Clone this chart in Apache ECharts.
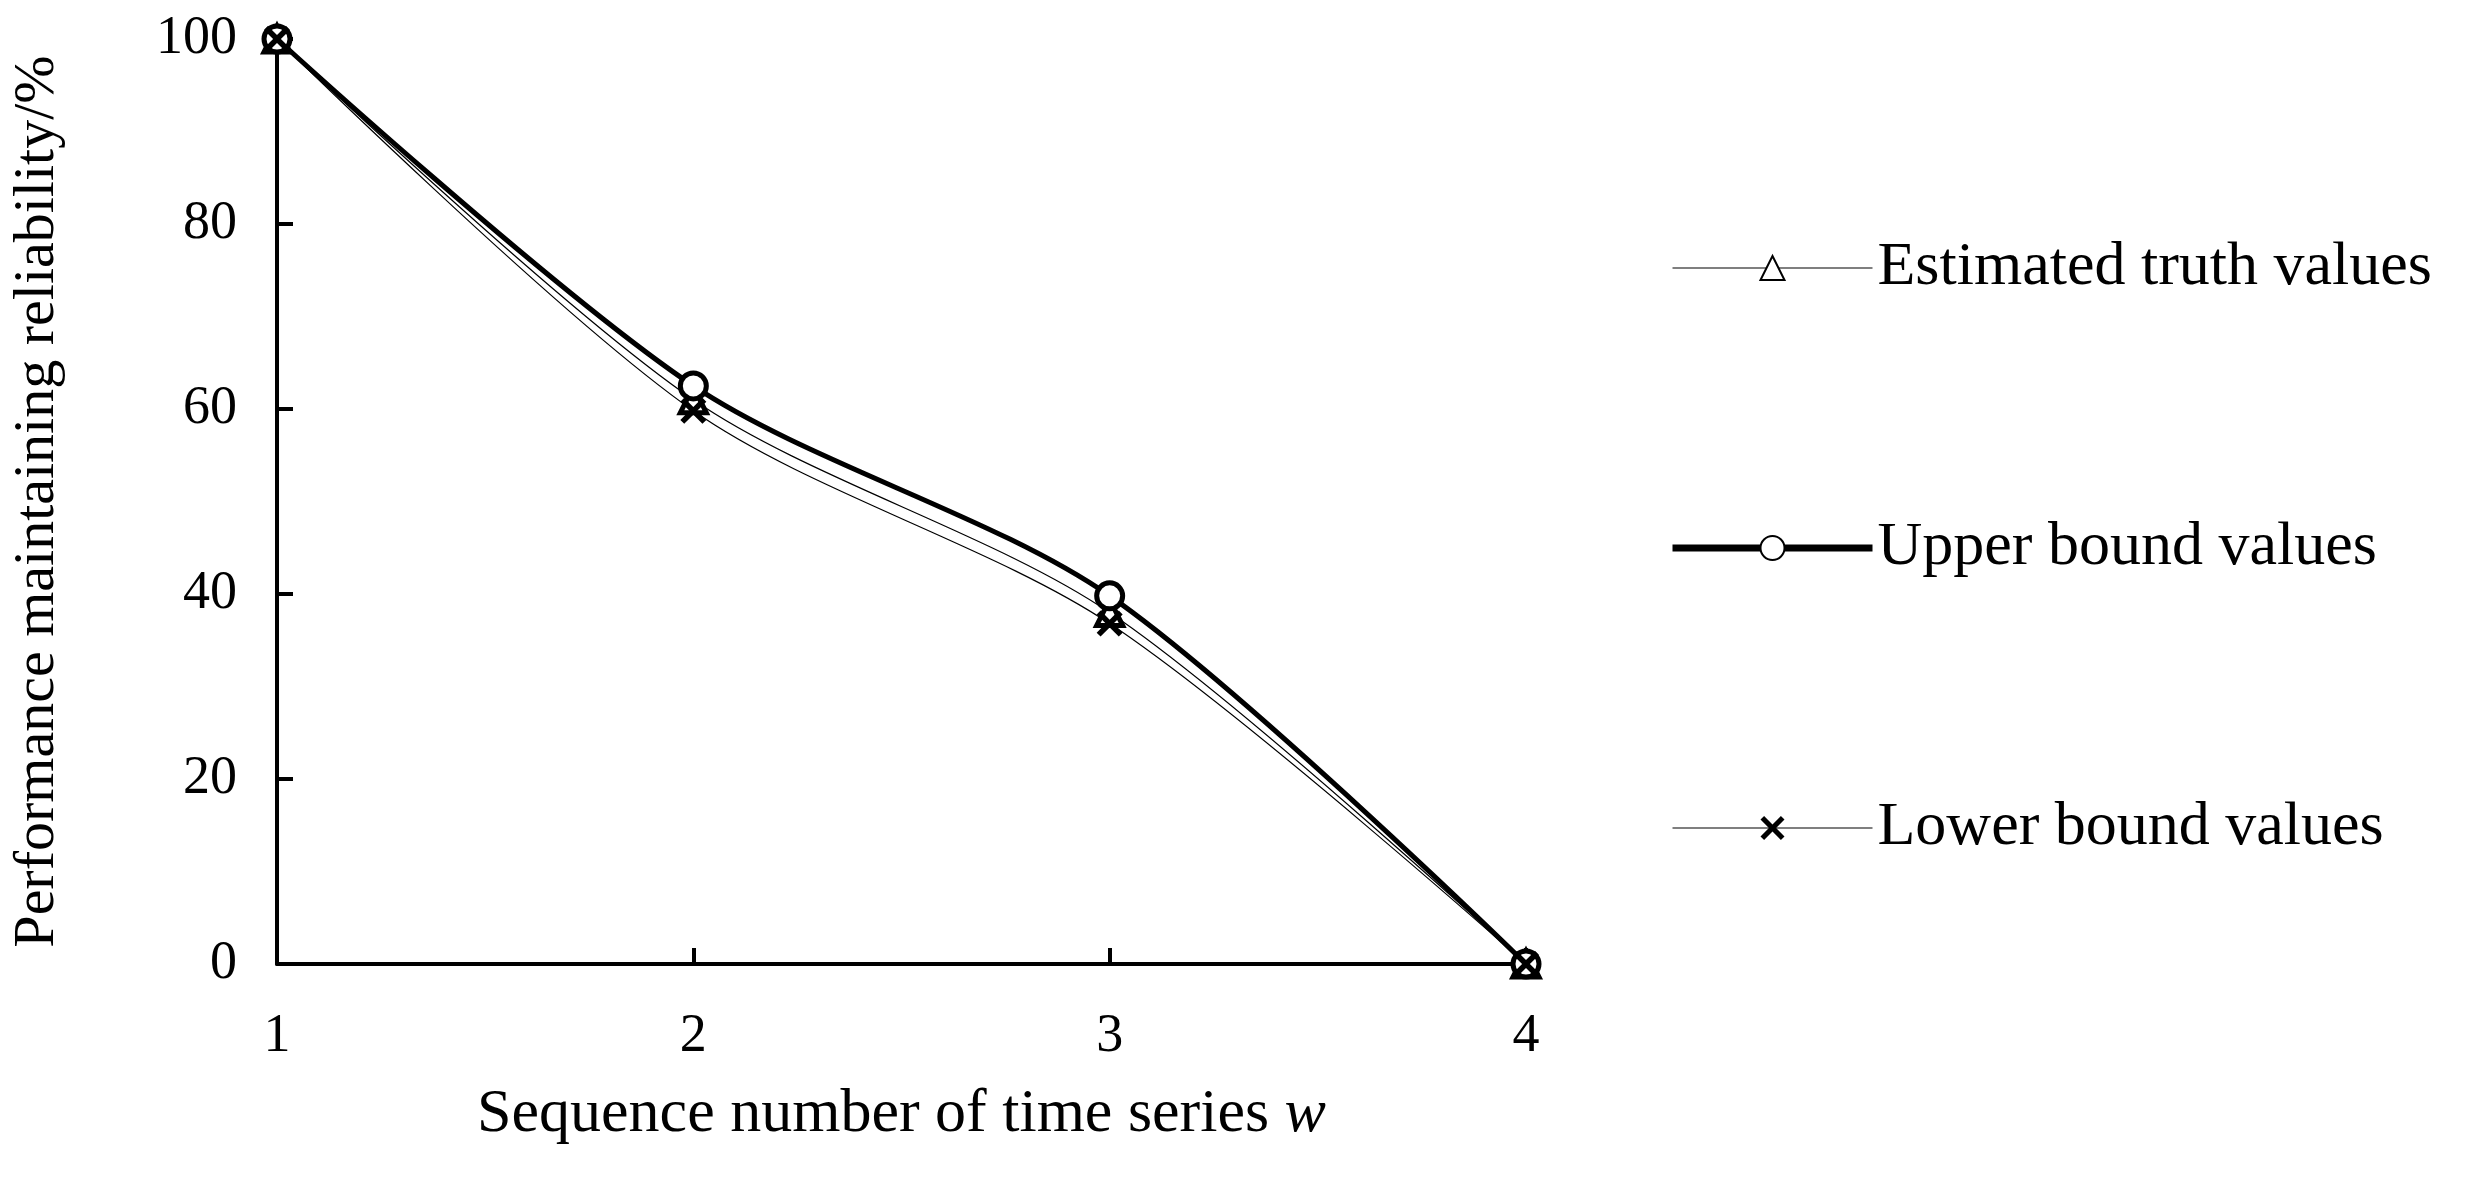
<!DOCTYPE html>
<html><head><meta charset="utf-8">
<script src="https://cdn.jsdelivr.net/npm/echarts@6/dist/echarts.min.js"></script>
<style>html,body{margin:0;padding:0;background:#fff}#c{width:2466px;height:1204px}</style>
</head><body><div id="c"></div>
<script>
const categories = ['1','2','3','4'];
const truthValues = [100, 61, 38, 0];
const upperValues = [100, 62.5, 39.8, 0];
const lowerValues = [100, 59.8, 36.8, 0];
const F = 'Liberation Serif, Times New Roman, serif';
const xPath = 'path://M0,3L3,0L10,7L17,0L20,3L13,10L20,17L17,20L10,13L3,20L0,17L7,10Z';
const chart = echarts.init(document.getElementById('c'));
chart.setOption({
  animation:false,
  grid:{left:277,right:940,top:39,bottom:240,containLabel:false},
  xAxis:{type:'category',data:categories,boundaryGap:false,
    name:'{n|Sequence number of time series }{i|w}',nameLocation:'middle',nameGap:120,
    nameTextStyle:{fontFamily:F,fontSize:62,color:'#000',
      rich:{n:{fontFamily:F,fontSize:62,color:'#000'},i:{fontFamily:F,fontSize:62,fontStyle:'italic',color:'#000'}}},
    axisLine:{lineStyle:{color:'#000',width:4}},
    axisTick:{inside:true,length:16,lineStyle:{color:'#000',width:4}},
    axisLabel:{fontFamily:F,fontSize:54,color:'#000',margin:46}},
  yAxis:{type:'value',min:0,max:100,interval:20,
    name:'Performance maintaining reliability/%',nameLocation:'middle',nameGap:210,
    nameTextStyle:{fontFamily:F,fontSize:58,color:'#000'},
    splitLine:{show:false},
    axisLine:{show:true,lineStyle:{color:'#000',width:4}},
    axisTick:{show:true,inside:true,length:16,lineStyle:{color:'#000',width:4}},
    axisLabel:{fontFamily:F,fontSize:54,color:'#000',margin:40}},
  legend:{orient:'vertical',left:1664,top:232,itemWidth:200,itemHeight:30,itemGap:218,
    textStyle:{fontFamily:F,fontSize:62,color:'#000'},
    data:[
      {name:'Estimated truth values',lineStyle:{width:1.2}},
      {name:'Upper bound values',lineStyle:{width:7}},
      {name:'Lower bound values',lineStyle:{width:1.2}}
    ]},
  series:[
    {name:'Estimated truth values',type:'line',data:truthValues,smooth:0.3,
     symbol:'triangle',symbolSize:26,lineStyle:{color:'#000',width:1.2},
     itemStyle:{color:'#fff',borderColor:'#000',borderWidth:5}},
    {name:'Upper bound values',type:'line',data:upperValues,smooth:0.3,
     symbol:'circle',symbolSize:26,lineStyle:{color:'#000',width:5},
     itemStyle:{color:'#fff',borderColor:'#000',borderWidth:5}},
    {name:'Lower bound values',type:'line',data:lowerValues,smooth:0.3,
     symbol:xPath,symbolSize:26,lineStyle:{color:'#000',width:1.2},
     itemStyle:{color:'#000'}}
  ]
});
</script></body></html>
